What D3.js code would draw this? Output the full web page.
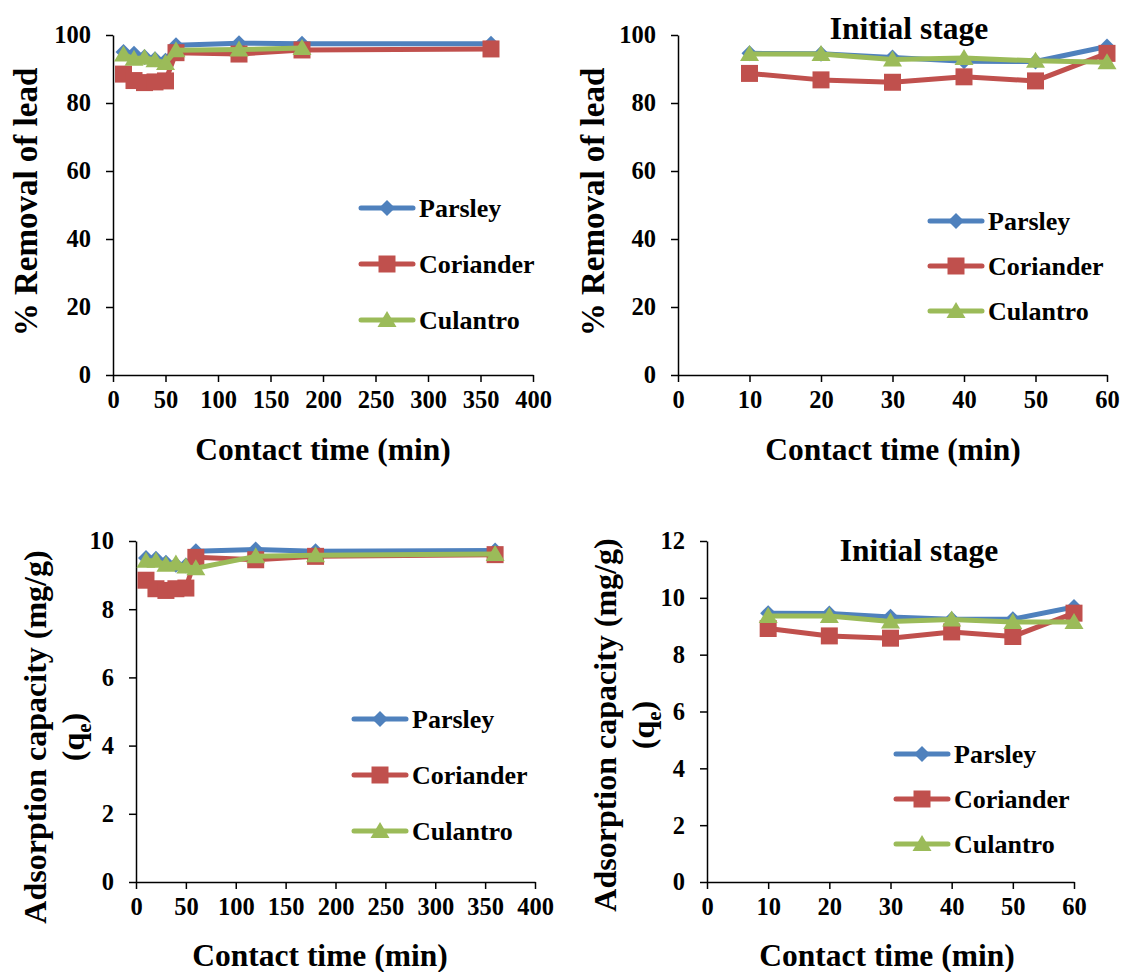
<!DOCTYPE html>
<html>
<head>
<meta charset="utf-8">
<script src="https://cdn.jsdelivr.net/npm/d3@7"></script>
<style>
	body { margin: 0; background: #fff; }
	svg text { font-family: "Liberation Serif", "Times New Roman", Times, Tinos, "DejaVu Serif", serif; font-weight: bold; fill: #000; }
</style>
</head>
<body>
<div id="chart"></div>
<script>
// contact times (min)
const fullTime = [10, 20, 30, 40, 50, 60, 120, 180, 360];
const initTime = [10, 20, 30, 40, 50, 60];

// % removal of lead, whole run
const removalParsley = [95.0, 94.5, 93.5, 92.9, 92.4, 97.0, 97.6, 97.4, 97.4];
const removalCoriander = [88.5, 86.6, 86.0, 86.2, 86.5, 94.8, 94.4, 95.6, 95.9];
const removalCulantro = [94.3, 93.0, 93.3, 92.6, 91.8, 95.5, 95.7, 96.2];

// % removal of lead, initial stage
const removalParsleyInit = [94.6, 94.5, 93.4, 92.3, 92.2, 96.6];
const removalCorianderInit = [88.7, 86.8, 86.1, 87.7, 86.5, 94.6];
const removalCulantroInit = [94.4, 94.4, 92.8, 93.2, 92.4, 92.0];

// adsorption capacity qe (mg/g), whole run
const qParsley = [9.5, 9.48, 9.36, 9.3, 9.28, 9.7, 9.75, 9.7, 9.72];
const qCoriander = [8.85, 8.6, 8.55, 8.6, 8.62, 9.52, 9.45, 9.55, 9.6];
const qCulantro = [9.42, 9.42, 9.3, 9.34, 9.25, 9.2, 9.55, 9.58, 9.62];

// adsorption capacity qe (mg/g), initial stage
const qParsleyInit = [9.46, 9.45, 9.33, 9.25, 9.25, 9.68];
const qCorianderInit = [8.92, 8.66, 8.58, 8.8, 8.64, 9.46];
const qCulantroInit = [9.36, 9.36, 9.17, 9.24, 9.15, 9.15];

const seriesNames = ['Parsley', 'Coriander', 'Culantro'];
const seriesColors = ['#4F81BD', '#C0504D', '#9BBB59'];
const seriesShapes = ['diamond', 'square', 'triangle'];

const xTicksFull = [0, 50, 100, 150, 200, 250, 300, 350, 400];
const xTicksInit = [0, 10, 20, 30, 40, 50, 60];
const yTicksRemoval = [0, 20, 40, 60, 80, 100];
const yTicksQ10 = [0, 2, 4, 6, 8, 10];
const yTicksQ12 = [0, 2, 4, 6, 8, 10, 12];

const serifFont = '"Liberation Serif", "Times New Roman", Times, Tinos, "DejaVu Serif", serif';

const svg = d3.select('#chart').append('svg')
	.attr('width', 1122)
	.attr('height', 972);

function markerPath(shape) {
	if (shape == 'diamond') return 'M0,-8L8,0L0,8L-8,0Z';
	if (shape == 'square') return 'M-8.5,-8.5H8.5V8.5H-8.5Z';
	return 'M0,-9L9.5,7L-9.5,7Z';
}

function drawPanel(opt) {
	let g = svg.append('g');
	let x = d3.scaleLinear().domain([0, opt.xMax]).range([opt.left, opt.right]);
	let y = d3.scaleLinear().domain([0, opt.yMax]).range([opt.bottom, opt.top]);

	let xAxis = g.append('g')
		.attr('transform', 'translate(0,' + opt.bottom + ')')
		.call(d3.axisBottom(x).tickValues(opt.xTicks).tickSize(7).tickSizeOuter(0).tickPadding(9));
	let yAxis = g.append('g')
		.attr('transform', 'translate(' + opt.left + ',0)')
		.call(d3.axisLeft(y).tickValues(opt.yTicks).tickSize(7).tickSizeOuter(0).tickPadding(15));

	[xAxis, yAxis].forEach(a => {
		a.attr('font-family', serifFont).attr('font-size', 24);
		a.select('.domain').attr('stroke', '#000').attr('stroke-width', 1.5);
		a.selectAll('.tick line').attr('stroke', '#000').attr('stroke-width', 1.5);
		a.selectAll('.tick text').style('font-family', serifFont).style('font-size', '24.5px');
	});
	xAxis.selectAll('.tick text').attr('dy', '0.71em');

	// x title
	g.append('text')
		.attr('x', opt.xTitleX)
		.attr('y', opt.xTitleY)
		.attr('text-anchor', 'middle')
		.style('font-size', '31.5px')
		.text('Contact time (min)');

	// y title
	let yt = g.append('text')
		.attr('transform', 'translate(' + opt.yTitleX + ',' + opt.yTitleY + ') rotate(-90)')
		.attr('text-anchor', 'middle');
	if (opt.qTitle) {
		yt.style('font-size', '32px');
		yt.append('tspan').attr('x', 0).attr('dy', 0).text('Adsorption capacity (mg/g)');
		yt.append('tspan').attr('x', 0).attr('dy', 38).text('(q');
		yt.append('tspan').style('font-size', '21px').attr('dy', 7).text('e');
		yt.append('tspan').attr('dy', -7).text(')');
	}
	else {
		yt.style('font-size', '33px').text('% Removal of lead');
	}

	if (opt.title) {
		g.append('text')
			.attr('x', opt.titleX)
			.attr('y', opt.titleY)
			.attr('text-anchor', 'middle')
			.style('font-size', '31.5px')
			.text(opt.title);
	}

	let line = d3.line()
		.x(d => x(d[0]))
		.y(d => y(d[1]));

	opt.values.forEach((vals, i) => {
		let pts = vals.map((v, j) => [opt.time[j], v]);
		g.append('path')
			.attr('d', line(pts))
			.attr('fill', 'none')
			.attr('stroke', seriesColors[i])
			.attr('stroke-width', 5)
			.attr('stroke-linejoin', 'round')
			.attr('stroke-linecap', 'round');
		g.selectAll('.m' + i)
			.data(pts)
			.enter()
			.append('path')
			.attr('class', 'm' + i)
			.attr('d', markerPath(seriesShapes[i]))
			.attr('transform', d => 'translate(' + x(d[0]) + ',' + y(d[1]) + ')')
			.attr('fill', seriesColors[i]);
	});

	// legend
	let lg = g.append('g').attr('transform', 'translate(' + opt.legendX + ',' + opt.legendY + ')');
	seriesNames.forEach((name, i) => {
		let row = lg.append('g').attr('transform', 'translate(0,' + i * opt.legendGap + ')');
		row.append('line')
			.attr('x1', 2).attr('x2', 54)
			.attr('stroke', seriesColors[i])
			.attr('stroke-width', 5)
			.attr('stroke-linecap', 'round');
		row.append('path')
			.attr('d', markerPath(seriesShapes[i]))
			.attr('transform', 'translate(28,0)')
			.attr('fill', seriesColors[i]);
		row.append('text')
			.attr('x', 60)
			.attr('dy', '0.35em')
			.style('font-size', '26px')
			.text(name);
	});
}

drawPanel({
	left: 113, right: 533, top: 35, bottom: 375,
	xMax: 400, yMax: 100, xTicks: xTicksFull, yTicks: yTicksRemoval,
	time: fullTime, values: [removalParsley, removalCoriander, removalCulantro],
	xTitleX: 323, xTitleY: 460, yTitleX: 37, yTitleY: 202,
	legendX: 359, legendY: 208, legendGap: 56
});

drawPanel({
	left: 678, right: 1107, top: 35, bottom: 375,
	xMax: 60, yMax: 100, xTicks: xTicksInit, yTicks: yTicksRemoval,
	time: initTime, values: [removalParsleyInit, removalCorianderInit, removalCulantroInit],
	xTitleX: 893, xTitleY: 460, yTitleX: 604, yTitleY: 202,
	title: 'Initial stage', titleX: 909, titleY: 39,
	legendX: 928, legendY: 221, legendGap: 45
});

drawPanel({
	left: 136, right: 535, top: 541, bottom: 882,
	xMax: 400, yMax: 10, xTicks: xTicksFull, yTicks: yTicksQ10,
	time: fullTime, values: [qParsley, qCoriander, qCulantro],
	qTitle: true,
	xTitleX: 320, xTitleY: 966, yTitleX: 46, yTitleY: 737,
	legendX: 352, legendY: 719, legendGap: 56
});

drawPanel({
	left: 707, right: 1074, top: 541, bottom: 882,
	xMax: 60, yMax: 12, xTicks: xTicksInit, yTicks: yTicksQ12,
	time: initTime, values: [qParsleyInit, qCorianderInit, qCulantroInit],
	qTitle: true,
	xTitleX: 887, xTitleY: 966, yTitleX: 616, yTitleY: 725,
	title: 'Initial stage', titleX: 919, titleY: 561,
	legendX: 894, legendY: 754, legendGap: 45
});
</script>
</body>
</html>
